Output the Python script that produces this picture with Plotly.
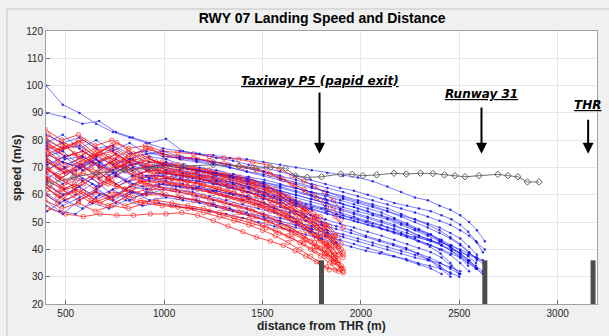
import plotly.graph_objects as go

# ---------------- data ----------------
TITLE = "RWY 07 Landing Speed and Distance"
X_LABEL = "distance from THR (m)"
Y_LABEL = "speed (m/s)"
X_TICKS = [500, 1000, 1500, 2000, 2500, 3000]
Y_TICKS = [20, 30, 40, 50, 60, 70, 80, 90, 100, 110, 120]

# sampled distances shared by groups of landings (m)
BLUE_GRID_A = [400, 485, 570, 655, 740, 825, 910, 995, 1080, 1165, 1250, 1335, 1420, 1505, 1590, 1670,
               1750, 1830, 1910, 1985, 2060, 2135, 2205, 2275, 2340, 2400, 2455, 2505, 2550, 2590, 2630]
BLUE_GRID_B = [405, 495, 585, 670, 755, 840, 925, 1010, 1095, 1180, 1265, 1350, 1430, 1510, 1590, 1670,
               1745, 1820, 1895, 1965, 2035, 2105, 2170, 2235, 2295, 2355, 2410, 2460, 2505, 2545, 2585, 2620]
BLUE_GRID_C = [395, 470, 550, 635, 720, 805, 890, 975, 1060, 1145, 1230, 1315, 1400, 1480, 1560, 1640,
               1720, 1800, 1875, 1950, 2025, 2095, 2165, 2230, 2290, 2350, 2405, 2455, 2500]

RED_GRID_A = [395, 480, 565, 650, 735, 820, 905, 990, 1070, 1150, 1230, 1305, 1380, 1450, 1520, 1585,
              1650, 1710, 1765, 1815, 1860, 1900]
RED_GRID_B = [410, 500, 590, 675, 760, 845, 930, 1010, 1090, 1170, 1250, 1325, 1400, 1470, 1540, 1605,
              1665, 1720, 1775, 1825, 1870, 1910]
RED_GRID_C = [400, 460, 545, 630, 715, 800, 880, 960, 1040, 1120, 1200, 1280, 1355, 1430, 1500, 1565,
              1630, 1690, 1745, 1795, 1840, 1885]

# blue landings (speeds in m/s) and which distance grid each uses
BLUE_GRID_OF = ["A", "B", "A", "A", "B", "B", "A", "A", "B", "B", "C", "A",
                "A", "B", "B", "C", "C", "A", "C", "A", "B", "A", "B", "A"]
BLUE_SPEEDS = [
    [100, 93, 90, 86, 83, 81, 79, 77, 76, 75, 74.5, 73.5, 73, 72, 71, 70, 69, 68, 67, 66.3, 65, 63, 61, 59, 58, 56, 54.5, 52.5, 50, 47, 43],
    [90, 88.5, 86, 87, 83, 81, 79, 80.5, 76, 75, 73.5, 72.5, 71, 70, 68.5, 67, 65.5, 64, 62.5, 61.5, 60, 58.5, 57, 56, 55, 54, 52.5, 51, 49, 46.5, 43, 39],
    [82, 79, 81, 77, 78, 75, 76, 74, 73.5, 72.5, 71.5, 70, 68.5, 67, 65.5, 64, 62.5, 61, 59.5, 58, 56.5, 55, 53, 51, 49, 47, 44.5, 42, 39, 36],
    [80, 77, 78, 74, 77, 73, 75, 75, 73, 72, 71, 70, 68.5, 67.5, 66, 64.5, 63, 61, 59, 57.5, 56, 54, 52, 50, 48, 46, 44, 41.5, 39, 36.5, 34],
    [78, 74, 76, 72, 75, 71, 74, 73, 71, 70, 69, 67.5, 66.5, 65.5, 64, 62.5, 61, 59.5, 58, 56.5, 55, 53.5, 51.5, 49.5, 47.5, 45.5, 43, 40.5, 38, 36, 34, 32],
    [77, 73, 74, 70, 73, 69, 72, 71, 70, 69, 68, 66.5, 65.5, 64.5, 63, 61.5, 60, 58.5, 57, 55.5, 54, 52.5, 51, 49, 47, 45.5, 43.5, 41.5, 39.5, 37.5, 35],
    [75, 72, 70, 73, 68, 71, 69, 71, 70, 69, 67.5, 66.5, 65, 64, 62.5, 61, 59.5, 58, 56.5, 55, 53, 51.5, 49.5, 47.5, 45.5, 43.5, 41, 38.5, 36, 33, 30],
    [74, 76, 71, 73, 69, 72, 70, 70, 69, 68, 66.5, 65.5, 64, 63, 61.5, 60, 58.5, 57, 55.5, 54, 52.5, 51, 49, 47, 45, 43, 41, 38.5, 36, 33],
    [73, 70, 74, 71, 68, 73, 70, 72, 70, 68.5, 67, 66, 64.5, 63, 61.5, 60, 58.5, 57, 55, 53.5, 52, 50.5, 49, 47, 45, 43.5, 41.5, 39.5, 37.5, 35.5, 33, 31],
    [72, 68, 71, 66, 70, 67, 69, 69, 68, 67, 65.5, 64.5, 63, 62, 60.5, 59, 57.5, 56, 54.5, 53, 51.5, 50, 48.5, 47, 45, 43.5, 41.5, 39.5, 37, 34],
    [70, 66, 69, 72, 67, 70, 66, 68, 67, 66, 65, 63.5, 62.5, 61, 59.5, 58, 56.5, 55, 53, 51.5, 50, 48, 46.5, 45, 43, 41, 38.5, 35, 31],
    [69, 72, 70, 74, 71, 73, 70, 71, 70, 69, 68, 67, 66, 64.5, 63.5, 62.5, 61, 60, 58.5, 57, 55.5, 54, 52.5, 51, 49.5, 48, 46, 44, 41, 38],
    [68, 64, 67, 63, 68, 65, 67, 67, 66, 65, 64, 62.5, 61, 60, 58.5, 57, 55.5, 54, 52.5, 51, 49.5, 48, 46, 44, 42, 40, 38, 35, 32],
    [66, 70, 65, 68, 64, 67, 65, 66, 65.5, 65, 64, 62.5, 61, 59.5, 58, 56.5, 55, 53.5, 52, 50.5, 49, 47.5, 46, 44.5, 43, 41.5, 40, 38.5, 37, 35, 33],
    [65, 62, 66, 63, 67, 64, 66, 65, 64, 63, 61.5, 60, 58.5, 57, 55.5, 54, 52.5, 51, 49.5, 48, 46.5, 45, 43.5, 42, 40.5, 39, 37, 34, 31],
    [63, 59, 62, 66, 61, 65, 63, 64, 63, 62, 61, 59.5, 58, 56.5, 55, 53.5, 52, 50, 48.5, 47, 45, 43.5, 42, 40.5, 38.5, 36, 33, 30],
    [61, 57, 60, 64, 59, 62, 60, 63, 62, 61, 59.5, 58, 56.5, 55, 53.5, 52, 50.5, 49, 47.5, 46, 44.5, 43, 41.5, 40, 38.5, 37, 35, 33, 31],
    [60, 56, 59, 62, 58, 61, 60, 62, 61, 59.5, 58, 56.5, 55, 53, 51.5, 50, 48.5, 47, 45.5, 44, 42.5, 41, 39.5, 38, 36.5, 34, 31],
    [58, 54, 53, 57, 55, 58, 56, 57, 56, 55, 54, 53, 51.5, 50, 48.5, 47, 45.5, 44, 42.5, 41, 39.5, 38.5, 37.5, 36.5, 35, 34, 33, 31.5, 30],
    [56, 53, 58, 61, 59, 63, 62, 64, 63, 62.5, 61.5, 60.5, 59.5, 58.5, 57, 56, 54.5, 53, 51.5, 50, 48.5, 47, 45.5, 44.5, 43.5, 42.5, 41.5, 40, 38.5, 37, 35],
    [54, 58, 55, 60, 57, 61, 58, 59, 58, 57, 55.5, 54, 52.5, 51, 49.5, 48, 46.5, 45, 43.5, 42, 40.5, 39, 37.5, 36, 34.5, 33, 31],
    [79, 82, 77, 80, 76, 79, 75, 76, 74, 73, 72, 71, 70, 68.5, 67, 65.5, 64, 62.5, 61, 59.5, 58, 56.5, 55, 53.5, 52, 50.5, 49, 47, 45, 42.5, 40],
    [71, 74, 69, 72, 67, 70, 66, 68, 67, 66, 65, 64, 62.5, 61, 59.5, 58, 56.5, 55, 53.5, 52, 50.5, 49, 47.5, 46, 44.5, 43, 41.5, 40, 39, 38, 37, 36],
    [64, 60, 63, 59, 62, 58, 61, 60, 59, 58, 56.5, 55, 53.5, 52, 50.5, 49, 47.5, 46, 44.5, 43, 41.5, 40, 38.5, 37, 36, 35, 33.5, 32],
]

# red landings
RED_GRID_OF = ["A", "B", "C", "A", "B", "C", "A", "B", "C", "A", "B", "C", "A", "B",
               "C", "A", "B", "C", "A", "B", "C", "A", "B", "C", "A", "B", "C", "A"]
RED_SPEEDS = [
    [84, 80, 82, 78, 80, 77, 78, 76, 75.5, 75, 74, 73.5, 73, 72, 71, 69.5, 67, 65, 63, 61, 58, 54],
    [82, 78, 80, 76, 79, 75, 77, 74, 73.5, 73, 72, 71, 70, 69, 67.5, 65.5, 63, 61, 58.5, 55.5, 52, 48],
    [80, 76, 78, 74, 77, 72, 75, 72, 71, 70, 69, 68, 67, 66, 64, 62, 59.5, 57, 54.5, 52, 48.5, 45],
    [79, 76, 80, 75, 78, 74, 77, 75, 74, 73.5, 72.5, 71.5, 70.5, 70, 68.5, 66.5, 64, 62, 60, 58, 55, 51],
    [78, 74, 76, 72, 75, 71, 73, 71, 70, 69, 68, 67, 65.5, 64, 62, 60, 57.5, 55, 52, 49, 45],
    [77, 73, 75, 71, 74, 70, 72, 70, 69, 68, 67, 65.5, 64.5, 63, 61, 58.5, 56, 53.5, 51, 48, 44.5, 41],
    [76, 79, 74, 77, 73, 76, 72, 72, 71, 70, 69, 67.5, 66.5, 65, 63, 61, 58, 55, 52, 49],
    [75, 71, 74, 70, 73, 69, 71, 70, 68.5, 67.5, 66.5, 65, 63.5, 62, 60, 58, 55.5, 52.5, 49.5, 46.5, 43, 39],
    [74, 70, 68, 72, 69, 73, 68, 69, 68, 67, 66, 64.5, 63, 61, 59, 57, 54.5, 52, 49, 46, 42, 38],
    [73, 69, 72, 75, 71, 74, 70, 71, 70, 69, 68, 67, 65.5, 64, 62, 60, 57, 54.5, 51.5, 48, 44],
    [72, 68, 70, 66, 71, 67, 69, 68, 67, 66, 64.5, 63, 61.5, 60, 58, 56, 53.5, 51, 48, 45, 41, 37],
    [71, 67, 70, 73, 68, 71, 67, 67, 66, 65, 63.5, 62, 60.5, 59, 57, 55, 52.5, 50, 47, 44, 40, 36],
    [70, 66, 71, 68, 72, 69, 70, 69, 68, 67, 66, 64.5, 63, 62, 60, 58, 55, 52.5, 49.5, 46.5, 43, 40],
    [69, 65, 68, 64, 67, 63, 66, 66, 65, 64, 62.5, 61, 59.5, 58, 56, 54, 51.5, 48.5, 45.5, 42, 38],
    [68, 72, 67, 70, 66, 69, 66, 67, 66, 65, 64, 62.5, 61, 59, 57, 55, 52.5, 50, 47.5, 44.5, 41.5, 38],
    [67, 63, 66, 62, 65, 61, 64, 65, 64, 63, 61.5, 60, 58.5, 57, 55, 53, 50.5, 48, 45, 42, 38, 34],
    [66, 62, 64, 68, 63, 66, 63, 64, 63, 62, 60.5, 59, 57.5, 56, 54, 52, 49.5, 47, 44, 41, 37, 33],
    [65, 61, 64, 60, 66, 62, 65, 65, 64, 63, 62, 60.5, 59, 58, 56, 54, 51.5, 49, 46, 43],
    [64, 60, 62, 58, 61, 60, 62, 62, 61, 60, 58.5, 57, 55.5, 54, 52, 50, 47.5, 45, 42.5, 40, 36.5, 33],
    [62, 58, 61, 57, 60, 59, 61, 60, 59, 58, 56.5, 55, 53.5, 52, 50, 48, 46, 43.5, 41, 38.5, 35.5, 32],
    [60, 57, 62, 58, 56, 59, 57, 58, 57, 56, 55, 53.5, 52, 51, 49, 47, 45, 42.5, 40, 37.5, 35, 32],
    [58, 55, 57, 54, 56, 55, 57, 56, 55.5, 55, 54, 52.5, 51, 49.5, 48, 46, 44, 42, 39.5, 37.5, 35, 33],
    [55, 53, 52, 53, 52.5, 52.5, 53, 53, 53.5, 52.5, 50.5, 48.5, 46.5, 44.5, 43, 41.5, 39.5, 37.5, 35.5, 33.5, 32.5, 31.5],
    [63, 59, 61, 57, 59, 56, 58, 57, 56, 55, 53.5, 52, 50.5, 49, 47, 45, 42.5, 40, 37.5, 35, 32.5],
    [81, 77, 79, 74, 76, 72, 74, 71, 70, 69, 68, 66.5, 65, 63.5, 61.5, 59.5, 57, 54.5, 51.5, 48.5, 45, 42],
    [75, 78, 72, 75, 70, 73, 68, 68, 67, 66, 64.5, 63, 61.5, 60, 58, 56, 53.5, 51, 48, 45, 41.5, 38],
    [70, 66, 63, 67, 64, 62, 65, 63, 62, 61, 59.5, 58, 56.5, 55, 53, 51, 48.5, 46, 43, 40.5, 38, 35],
    [66, 62, 58, 61, 59, 62, 60, 60, 59, 58, 56.5, 55, 53.5, 52, 50.5, 48.5, 46, 43.5, 41, 38.5, 35.5],
]

# the one gray landing that does not stop
GRAY_DIST = [420, 540, 660, 800, 950, 1100, 1250, 1380, 1464, 1541, 1617, 1668, 1727, 1800, 1897, 1956,
             2010, 2080, 2168, 2231, 2303, 2366, 2425, 2478, 2529, 2600, 2696, 2747, 2798, 2846, 2905]
GRAY_SPEED = [64, 66.5, 68, 69, 70, 70.5, 71, 70.5, 69.7, 70.1, 69.7, 67.0, 66.4, 66.6, 67.6, 67.5,
              67.0, 67.3, 67.9, 67.6, 67.9, 67.8, 67.3, 67.0, 66.6, 67.0, 67.5, 67.0, 66.6, 64.7, 64.7]

# exits / thresholds
MARK_LABELS = ["Taxiway P5 (papid exit)", "Runway 31", "THR"]
MARK_BAR_X = [1800, 2630, 3180]
MARK_BAR_TOP = 36
MARK_ARROW_X = [1790, 2613, 3155]
MARK_ARROW_TAIL = [98, 92.5, 88]
MARK_ARROW_HEAD = 75
MARK_LABEL_Y = [101.8, 97, 93]
MARK_LABEL_X = [1790, 2615, 3150]

GRIDS = {"BA": BLUE_GRID_A, "BB": BLUE_GRID_B, "BC": BLUE_GRID_C,
         "RA": RED_GRID_A, "RB": RED_GRID_B, "RC": RED_GRID_C}

# ---------------- figure ----------------
fig = go.Figure()


def add_run(dist, speed, color, marker, width):
    pts = list(zip(dist, speed))
    fig.add_trace(go.Scatter(
        x=[p[0] for p in pts], y=[p[1] for p in pts], mode="lines+markers",
        line=dict(color=color, width=width), marker=marker,
        hoverinfo="skip", showlegend=False))


blue_line = "rgba(30,30,255,0.72)"
blue_marker = dict(symbol="circle", size=2.5, color="rgba(20,20,230,0.85)")
red_line = "rgba(255,0,0,0.8)"
red_marker = dict(symbol="circle-open", size=4.5, color="rgba(255,30,30,0.75)", line=dict(width=0.9))

n = max(len(BLUE_SPEEDS), len(RED_SPEEDS))
for i in range(n):
    if i < len(BLUE_SPEEDS):
        add_run(GRIDS["B" + BLUE_GRID_OF[i]], BLUE_SPEEDS[i], blue_line, blue_marker, 0.8)
    if i < len(RED_SPEEDS):
        add_run(GRIDS["R" + RED_GRID_OF[i]], RED_SPEEDS[i], red_line, red_marker, 0.9)

fig.add_trace(go.Scatter(
    x=GRAY_DIST, y=GRAY_SPEED, mode="lines+markers",
    line=dict(color="#707070", width=1),
    marker=dict(symbol="diamond-open", size=5, color="#606060", line=dict(width=1)),
    hoverinfo="skip", showlegend=False))

for bx in MARK_BAR_X:
    fig.add_trace(go.Scatter(x=[bx, bx], y=[20, MARK_BAR_TOP], mode="lines",
                             line=dict(color="#4d4d4d", width=5), hoverinfo="skip",
                             showlegend=False))

annotations = []
for lab, lx, ly, axx, tail in zip(MARK_LABELS, MARK_LABEL_X, MARK_LABEL_Y, MARK_ARROW_X, MARK_ARROW_TAIL):
    annotations.append(dict(
        x=lx, y=ly, xref="x", yref="y", showarrow=False,
        text="<u><b><i>" + lab + "</i></b></u>",
        font=dict(family="DejaVu Sans", size=12, color="black")))
    annotations.append(dict(
        x=axx, y=MARK_ARROW_HEAD, ax=axx, ay=tail, xref="x", yref="y",
        axref="x", ayref="y", text="", showarrow=True,
        arrowhead=2, arrowsize=1.1, arrowwidth=2, arrowcolor="black"))

annotations.append(dict(
    x=0.5, y=-0.08, xref="paper", yref="paper", showarrow=False,
    text="<b>" + X_LABEL + "</b>", yanchor="middle",
    font=dict(family="Liberation Sans", size=12, color="#262626")))
annotations.append(dict(
    x=-0.053, y=0.5, xref="paper", yref="paper", showarrow=False, textangle=-90,
    text="<b>" + Y_LABEL + "</b>", xanchor="center", yanchor="middle",
    font=dict(family="Liberation Sans", size=12, color="#262626")))

fig.update_layout(
    width=609, height=336,
    margin=dict(l=46, r=12, t=31, b=32),
    paper_bgcolor="#f0f0f0", plot_bgcolor="white",
    showlegend=False,
    title=dict(text="<b>" + TITLE + "</b>", x=0.529, xanchor="center",
               y=0.946, yanchor="middle",
               font=dict(family="Liberation Sans", size=14, color="black")),
    annotations=annotations,
    shapes=[dict(type="rect", xref="paper", yref="paper",
                 x0=-0.071, x1=1.2, y0=-0.3, y1=1.0806,
                 line=dict(color="#c4c4c4", width=1), layer="below")],
)
fig.update_xaxes(range=[400, 3200], tickvals=X_TICKS, showgrid=True, gridcolor="#e6e6e6",
                 gridwidth=1, zeroline=False, showline=True, linecolor="#a0a0a0", mirror=True,
                 ticks="inside", ticklen=4, tickcolor="#707070",
                 tickfont=dict(family="Liberation Sans", size=10, color="#262626"))
fig.update_yaxes(range=[20, 120], tickvals=Y_TICKS, showgrid=True, gridcolor="#e6e6e6",
                 gridwidth=1, zeroline=False, showline=True, linecolor="#a0a0a0", mirror=True,
                 ticks="inside", ticklen=4, tickcolor="#707070",
                 tickfont=dict(family="Liberation Sans", size=10, color="#262626"))

fig.write_html("out.html")
